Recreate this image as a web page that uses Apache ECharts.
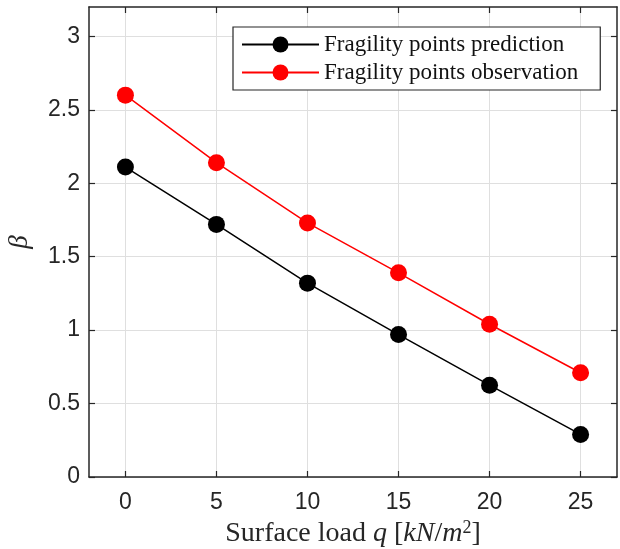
<!DOCTYPE html>
<html>
<head>
<meta charset="utf-8">
<script src="https://cdn.jsdelivr.net/npm/echarts@6/dist/echarts.min.js"></script>
<style>html,body{margin:0;padding:0;background:#fff}#c{width:620px;height:549px}</style>
</head>
<body>
<div id="c"></div>
<script>
const loads = [0, 5, 10, 15, 20, 25];
const prediction = [2.11, 1.72, 1.32, 0.97, 0.625, 0.29];
const observation = [2.60, 2.14, 1.73, 1.39, 1.04, 0.71];
const xTicks = [0, 5, 10, 15, 20, 25];
const yTicks = [0, 0.5, 1, 1.5, 2, 2.5, 3];

const axisColor = '#262626';
const gridColor = '#dfdfdf';
const sans = 'Liberation Sans';
const serif = 'Liberation Serif';

const chart = echarts.init(document.getElementById('c'), null, {renderer: 'canvas'});
function xAx(pos, show) {
  return {
    type: 'value', position: pos, min: -2, max: 27,
    axisLine: {show: true, onZero: false, lineStyle: {color: axisColor, width: 1.5}},
    axisTick: {show: true, inside: true, length: 6, customValues: xTicks, lineStyle: {color: axisColor, width: 1.2}},
    axisLabel: {show: show, customValues: xTicks, color: axisColor, fontFamily: sans, fontSize: 23, margin: 14},
    splitLine: {show: show, lineStyle: {color: gridColor, width: 1}}
  };
}
function yAx(pos, show) {
  return {
    type: 'value', position: pos, min: 0, max: 3.2,
    axisLine: {show: true, onZero: false, lineStyle: {color: axisColor, width: 1.5}},
    axisTick: {show: true, inside: true, length: 6, customValues: yTicks, lineStyle: {color: axisColor, width: 1.2}},
    axisLabel: {show: show, customValues: yTicks, color: axisColor, fontFamily: sans, fontSize: 23, margin: 9},
    splitLine: {show: show, lineStyle: {color: gridColor, width: 1}}
  };
}
const xa = xAx('bottom', true);
xa.name = 'Surface load {i|q} [{i|kN}/{i|m}{s|2}]';
xa.nameLocation = 'middle';
xa.nameGap = 42;
xa.nameMoveOverlap = false;
xa.nameTextStyle = {fontFamily: serif, fontSize: 28, color: axisColor, verticalAlign: 'top',
  rich: {i: {fontFamily: serif, fontStyle: 'italic', fontSize: 28, color: axisColor},
         s: {fontFamily: serif, fontSize: 18, color: axisColor, verticalAlign: 'top', padding: [0,0,12,0]}}};
const ya = yAx('left', true);
ya.name = 'β';
ya.nameLocation = 'middle';
ya.nameGap = 56;
ya.nameMoveOverlap = false;
ya.nameTextStyle = {fontFamily: serif, fontStyle: 'italic', fontSize: 27, color: axisColor};

chart.setOption({
  animation: false,
  backgroundColor: '#fff',
  grid: {left: 89, right: 3, top: 7, bottom: 72, outerBoundsMode: 'none', containLabel: false},
  xAxis: [xa, xAx('top', false)],
  yAxis: [ya, yAx('right', false)],
  legend: {
    show: true, orient: 'vertical', left: 233, top: 27,
    backgroundColor: '#fff',
    borderColor: axisColor, borderWidth: 1.2,
    padding: [6, 22, 6, 8],
    itemWidth: 77, itemHeight: 20, itemGap: 5,
    textStyle: {fontFamily: serif, fontSize: 23, color: '#111'},
    data: ['Fragility points prediction', 'Fragility points observation']
  },
  series: [
    {
      name: 'Fragility points prediction', type: 'line', xAxisIndex: 0, yAxisIndex: 0,
      data: loads.map((x, i) => [x, prediction[i]]),
      symbol: 'circle', symbolSize: 17,
      lineStyle: {color: '#000', width: 1.5},
      itemStyle: {color: '#000'}
    },
    {
      name: 'Fragility points observation', type: 'line', xAxisIndex: 0, yAxisIndex: 0,
      data: loads.map((x, i) => [x, observation[i]]),
      symbol: 'circle', symbolSize: 17,
      lineStyle: {color: '#ff0000', width: 1.5},
      itemStyle: {color: '#ff0000'}
    }
  ]
});
</script>
</body>
</html>
